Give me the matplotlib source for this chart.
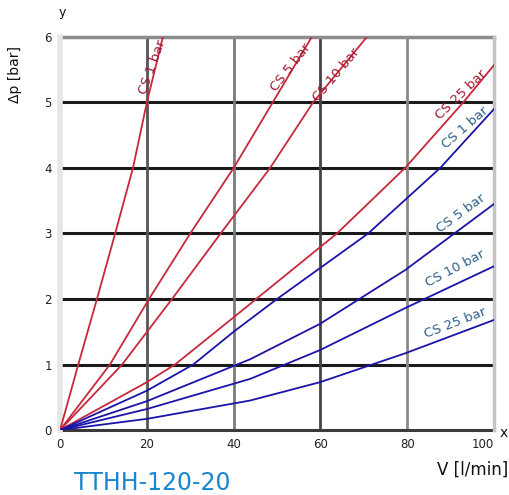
import matplotlib.pyplot as plt
import numpy as np

# flow V [l/min] and pressure drop dp [bar]
red1_v = [0, 4.2, 8.5, 12.7, 16.8, 20, 23.7]
red1_dp = [0, 1, 2, 3, 4, 5, 6]
red2_v = [0, 11.5, 20.5, 30, 40, 49, 58]
red2_dp = [0, 1, 2, 3, 4, 5, 6]
red3_v = [0, 14.3, 25.8, 37, 48.4, 58.3, 70.7]
red3_dp = [0, 1, 2, 3, 4, 5, 6]
red4_v = [0, 20, 26.5, 40, 63.8, 79.5, 92.9, 100]
red4_dp = [0, 0.73, 1, 1.72, 3, 4, 5, 5.57]

blue1_v = [0, 20, 30.7, 40, 50, 71, 87.6, 100]
blue1_dp = [0, 0.6, 1, 1.5, 2, 3, 4, 4.9]
blue2_v = [0, 20, 43.8, 59.9, 79.5, 100]
blue2_dp = [0, 0.44, 1.08, 1.62, 2.44, 3.45]
blue3_v = [0, 20, 43.8, 59.9, 79.5, 100]
blue3_dp = [0, 0.32, 0.78, 1.22, 1.86, 2.5]
blue4_v = [0, 20, 43.8, 59.9, 79.5, 100]
blue4_dp = [0, 0.17, 0.45, 0.73, 1.17, 1.68]

labels = ["CS 1 bar", "CS 5 bar", "CS 10 bar", "CS 25 bar"]
xticks = [0, 20, 40, 60, 80, 100]
yticks = [0, 1, 2, 3, 4, 5, 6]

red = "#c8283c"
red_txt = "#a01830"
blue = "#1a14a8"
blue_txt = "#2f6086"

fig = plt.figure(figsize=(5.09, 4.95), dpi=100)
ax = fig.add_axes([0.118, 0.1313, 0.8525, 0.794])
ax.set_xlim(0, 100)
ax.set_ylim(0, 6)

# grid
for y in [1, 2, 3, 4, 5]:
    ax.axhline(y, color="#1a1a1a", lw=2.2, zorder=1)
for x, c in zip([20, 40, 60, 80], ["#555555", "#7a7a7a", "#444444", "#8a8a8a"]):
    ax.axvline(x, color=c, lw=2.0, zorder=1)

for s in ax.spines.values():
    s.set_visible(False)
ax.axhline(6, color="#8c8c8c", lw=2.5, zorder=1, clip_on=False)
ax.axhline(0, color="#3a3a3a", lw=2.2, zorder=1, clip_on=False)
ax.axvline(100, color="#c4c4c4", lw=2.5, zorder=1, clip_on=False)
ax.axvline(0, color="#e6e6e6", lw=4, zorder=1, clip_on=False)

reds = [(red1_v, red1_dp), (red2_v, red2_dp), (red3_v, red3_dp), (red4_v, red4_dp)]
blues = [(blue1_v, blue1_dp), (blue2_v, blue2_dp), (blue3_v, blue3_dp), (blue4_v, blue4_dp)]
for v, dp in reds:
    ax.plot(v, dp, color=red, lw=1.3, zorder=3)
for v, dp in blues:
    ax.plot(v, dp, color=blue, lw=1.3, zorder=3)

# curve labels (data position, rotation in degrees)
red_lab = [(21.2, 5.54, 70), (53.2, 5.54, 52), (63.6, 5.42, 50), (92.4, 5.11, 44)]
blue_lab = [(93.3, 4.61, 41), (92.4, 3.30, 36), (91.0, 2.47, 28), (91.0, 1.63, 21)]
for (x, y, r), t in zip(red_lab, labels):
    ax.text(x, y, t, color=red_txt, fontsize=9.5, rotation=r, ha="center", va="center",
            rotation_mode="anchor", zorder=4)
for (x, y, r), t in zip(blue_lab, labels):
    ax.text(x, y, t, color=blue_txt, fontsize=9.5, rotation=r, ha="center", va="center",
            rotation_mode="anchor", zorder=4)

ax.set_xticks(xticks)
ax.set_yticks(yticks)
ax.set_xticklabels([str(t) for t in xticks], fontsize=8.5, color="#222222")
ax.set_yticklabels([str(t) for t in yticks], fontsize=8.5, color="#222222")
ax.get_xticklabels()[-1].set_ha("right")
ax.tick_params(length=0, pad=6)

fig.text(0.122, 0.975, "y", fontsize=9, ha="center", va="center", color="#111111")
fig.text(0.99, 0.125, "x", fontsize=10, ha="center", va="center", color="#111111")
fig.text(0.03, 0.85, "Δp [bar]", fontsize=10, rotation=90, ha="center", va="center", color="#111111")
fig.text(0.998, 0.052, "V [l/min]", fontsize=12, ha="right", va="center", color="#111111")
fig.text(0.145, 0.025, "TTHH-120-20", fontsize=17, ha="left", va="center", color="#1a86cc")

fig.savefig("out.png", dpi=100)
